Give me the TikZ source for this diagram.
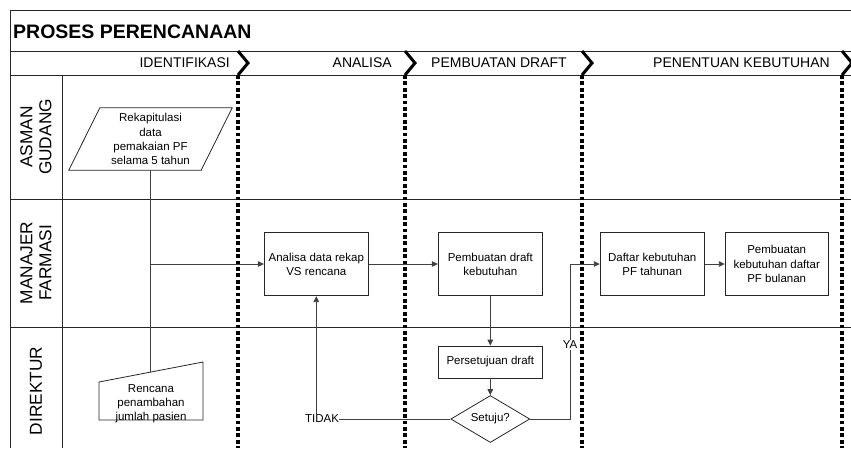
\documentclass[tikz,border=0pt]{standalone}
\usepackage{fontspec}
\setmainfont{Liberation Sans}
\usetikzlibrary{shapes.geometric,arrows.meta,calc}
\newcommand{\boxtxt}{\fontsize{11.5}{14.2}\selectfont}
\newcommand{\lanetxt}{\fontsize{17.3}{19}\selectfont}
\newcommand{\phasetxt}{\fontsize{14}{16}\selectfont}
\begin{document}
\begin{tikzpicture}[x=1pt,y=-1pt,
  frameline/.style={line width=1pt, draw=black!85},
  chevron/.style={line width=3pt, line join=miter, draw=black},
  divider/.style={line width=3.2pt, draw=black, dash pattern=on 3.8pt off 2.6pt},
  stepbox/.style={draw=black!85, line width=0.8pt, fill=white, minimum width=104pt,
    minimum height=63.5pt, align=center, font=\boxtxt, inner sep=2pt},
  outline/.style={draw=black!85, line width=0.8pt},
  plain/.style={align=center, font=\boxtxt, inner sep=0pt},
  lanelabel/.style={rotate=90, align=center, font=\lanetxt, inner sep=0pt},
  phaselabel/.style={anchor=east, font=\phasetxt, inner sep=0pt},
  conn/.style={draw=black!75, line width=0.9pt},
  arrow/.style={conn, -{Triangle[length=6pt,width=5.5pt]}},
]
\useasboundingbox (0,0) rectangle (851,448);

% frame and swimlane grid
\draw[frameline] (851,10) -- (10,10) -- (10,448);
\draw[frameline] (10,51) -- (851,51);
\draw[frameline] (10,75) -- (851,75);
\draw[frameline] (10,199) -- (851,199);
\draw[frameline] (10,327) -- (851,327);
\draw[frameline] (62,75) -- (62,448);

% title
\node[anchor=west, inner sep=0pt, font=\bfseries\fontsize{19.5}{22}\selectfont] (title) at (13,32) {PROSES PERENCANAAN};

% phase headers
\node[phaselabel] (ph1) at (230,63) {IDENTIFIKASI};
\node[phaselabel] (ph2) at (392,63) {ANALISA};
\node[phaselabel] (ph3) at (567,63) {PEMBUATAN DRAFT};
\node[phaselabel] (ph4) at (830,63) {PENENTUAN KEBUTUHAN};

% phase chevrons with dotted dividers
\foreach \px in {238,405,582,842}{
  \draw[chevron] (\px,51) -- (\px+10,63) -- (\px,75);
  \draw[divider] (\px,75) -- (\px,448);
}

% lane labels
\node[lanelabel] (lane1) at (36,137) {ASMAN\\GUDANG};
\node[lanelabel] (lane2) at (36,263) {MANAJER\\FARMASI};
\node[lanelabel] (lane3) at (36,391) {DIREKTUR};

% data input (parallelogram)
\node[plain, minimum width=132pt, minimum height=62pt] (rekap) at (150.5,139)
  {Rekapitulasi\\data\\pemakaian PF\\selama 5 tahun};
\draw[outline] ([xshift=-15.5pt]rekap.south west) -- ([xshift=-15.5pt]rekap.south east)
  -- ([xshift=15.5pt]rekap.north east) -- ([xshift=15.5pt]rekap.north west) -- cycle;

% manual input
\draw[outline] (99,420) -- (203,420) -- (203,362) -- (99,382) -- cycle;
\node[plain, anchor=south] (rencana) at (151,423.5) {Rencana\\penambahan\\jumlah pasien};
\coordinate (rentop) at (150.5,372);

% process steps
\node[stepbox] (analisa) at (316.3,264) {Analisa data rekap\\VS rencana};
\node[stepbox] (pdraft) at (490.3,264) {Pembuatan draft\\kebutuhan};
\node[stepbox, minimum height=32pt] (persetujuan) at (490.3,362) {Persetujuan draft};
\node[draw=black!85, line width=0.8pt, diamond, aspect=1.68, minimum width=79pt,
  minimum height=47pt, inner sep=0pt, font=\boxtxt] (setuju) at (490.3,419) {Setuju?};
\node[stepbox] (daftar) at (652.2,264) {Daftar kebutuhan\\PF tahunan};
\node[stepbox, minimum width=103pt] (pbulan) at (776.7,264) {Pembuatan\\kebutuhan daftar\\PF bulanan};

% connectors
\draw[conn] (rekap.south) -- (rentop);
\draw[arrow] (rekap.south |- analisa.west) -- (analisa.west);
\draw[arrow] (analisa) -- (pdraft);
\draw[arrow] (pdraft) -- (persetujuan);
\draw[arrow] (persetujuan) -- (setuju);
\draw[arrow] (daftar) -- (pbulan);

\node[plain] (tidak) at (322,419) {TIDAK};
\draw[conn] (setuju.west) -- (tidak.east);
\draw[arrow] (tidak.north -| analisa.south) -- (analisa.south);

\coordinate (yabend) at (570,264);
\draw[arrow] (setuju.east) -| (yabend) -- (daftar.west);
\node[plain, fill=white, inner sep=1pt] (ya) at (570,345) {YA};
\end{tikzpicture}
\end{document}
